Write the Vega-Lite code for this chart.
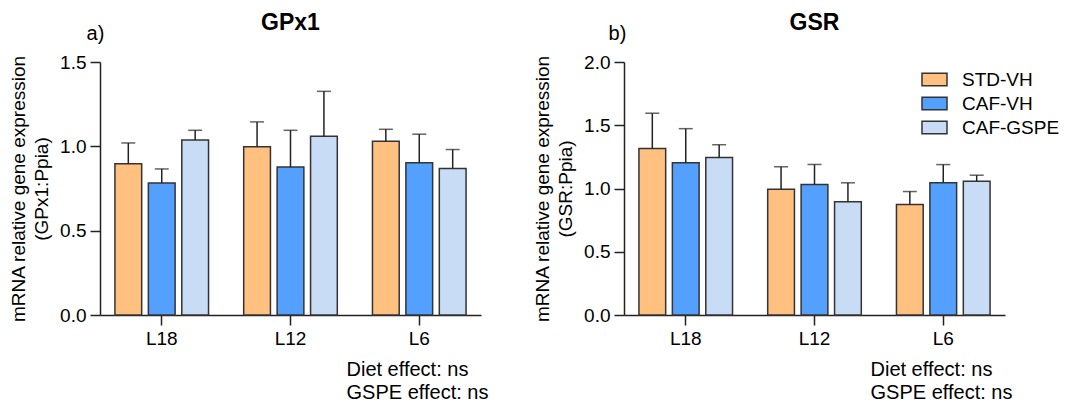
{
  "$schema": "https://vega.github.io/schema/vega-lite/v6.json",
  "background": "white",
  "padding": {"left": 9, "top": 12, "right": 0, "bottom": 0},
  "config": {
    "font": "Liberation Sans",
    "view": {"stroke": null},
    "axis": {
      "domainColor": "#222",
      "domainWidth": 1.5,
      "tickColor": "#222",
      "tickWidth": 1.5,
      "tickSize": 10,
      "labelColor": "#000",
      "titleColor": "#000",
      "labelFontSize": 19,
      "titleFontSize": 19,
      "titleFontWeight": "normal",
      "grid": false,
      "labelPadding": 4
    },
    "title": {"color": "#000"}
  },
  "datasets": {
    "gpx1": [
      {"level": "L18", "group": "STD-VH", "mean": 0.896, "upper": 1.020},
      {"level": "L18", "group": "CAF-VH", "mean": 0.783, "upper": 0.866},
      {"level": "L18", "group": "CAF-GSPE", "mean": 1.038, "upper": 1.095},
      {"level": "L12", "group": "STD-VH", "mean": 0.997, "upper": 1.145},
      {"level": "L12", "group": "CAF-VH", "mean": 0.878, "upper": 1.095},
      {"level": "L12", "group": "CAF-GSPE", "mean": 1.060, "upper": 1.326},
      {"level": "L6", "group": "STD-VH", "mean": 1.030, "upper": 1.101},
      {"level": "L6", "group": "CAF-VH", "mean": 0.902, "upper": 1.072},
      {"level": "L6", "group": "CAF-GSPE", "mean": 0.869, "upper": 0.981}
    ],
    "gsr": [
      {"level": "L18", "group": "STD-VH", "mean": 1.317, "upper": 1.595},
      {"level": "L18", "group": "CAF-VH", "mean": 1.203, "upper": 1.473},
      {"level": "L18", "group": "CAF-GSPE", "mean": 1.246, "upper": 1.346},
      {"level": "L12", "group": "STD-VH", "mean": 0.995, "upper": 1.172},
      {"level": "L12", "group": "CAF-VH", "mean": 1.032, "upper": 1.190},
      {"level": "L12", "group": "CAF-GSPE", "mean": 0.895, "upper": 1.045},
      {"level": "L6", "group": "STD-VH", "mean": 0.873, "upper": 0.976},
      {"level": "L6", "group": "CAF-VH", "mean": 1.045, "upper": 1.189},
      {"level": "L6", "group": "CAF-GSPE", "mean": 1.058, "upper": 1.105}
    ]
  },
  "spacing": 45,
  "resolve": {
    "scale": {"x": "independent", "y": "independent", "xOffset": "independent"},
    "legend": {"color": "independent"}
  },
  "hconcat": [
    {
      "title": {"text": "a)", "anchor": "start", "frame": "bounds", "fontSize": 20, "fontWeight": "normal", "baseline": "alphabetic", "offset": 0, "dx": 77, "dy": 48},
      "vconcat": [
        {
          "width": 381,
          "height": 253,
          "title": {"text": "GPx1", "fontSize": 23, "fontWeight": "bold", "anchor": "middle", "frame": "group", "baseline": "alphabetic", "offset": 0},
          "data": {"name": "gpx1"},
          "encoding": {
            "x": {
              "field": "level", "type": "nominal", "sort": ["L18", "L12", "L6"],
              "scale": {"paddingInner": 0.273, "paddingOuter": 0.116},
              "axis": {
                "labelAngle": 0,
                "title": ["Diet effect: ns", "GSPE effect: ns"],
                "titleFontSize": 20,
                "titleAlign": "left",
                "titleBaseline": "alphabetic",
                "titleX": 246,
                "titleY": 60,
                "titleLineHeight": 23
              }
            },
            "xOffset": {
              "field": "group", "type": "nominal", "sort": ["STD-VH", "CAF-VH", "CAF-GSPE"],
              "scale": {"paddingInner": 0.2, "paddingOuter": 0}
            },
            "y": {
              "field": "mean", "type": "quantitative",
              "scale": {"domain": [0, 1.5], "nice": false},
              "title": ["mRNA relative gene expression", "(GPx1:Ppia)"],
              "axis": {"values": [0, 0.5, 1, 1.5], "format": ".1f", "titleLineHeight": 23, "titlePadding": 8}
            }
          },
          "layer": [
            {
              "mark": {"type": "bar", "stroke": "#333", "strokeWidth": 1.5},
              "encoding": {
                "color": {
                  "field": "group", "type": "nominal",
                  "scale": {"domain": ["STD-VH", "CAF-VH", "CAF-GSPE"], "range": ["#FFC080", "#54A0FF", "#C8DCF5"]},
                  "legend": null
                }
              }
            },
            {
              "mark": {"type": "rule", "color": "#222", "strokeWidth": 1.5},
              "encoding": {"y2": {"field": "upper"}}
            },
            {
              "mark": {"type": "tick", "color": "#222", "size": 14, "thickness": 1.5},
              "encoding": {
                "y": {
                  "field": "upper", "type": "quantitative",
                  "scale": {"domain": [0, 1.5], "nice": false},
                  "title": ["mRNA relative gene expression", "(GPx1:Ppia)"],
                  "axis": {"values": [0, 0.5, 1, 1.5], "format": ".1f", "titleLineHeight": 23, "titlePadding": 8}
                }
              }
            }
          ]
        }
      ]
    },
    {
      "title": {"text": "b)", "anchor": "start", "frame": "bounds", "fontSize": 20, "fontWeight": "normal", "baseline": "alphabetic", "offset": 0, "dx": 75, "dy": 48},
      "resolve": {"legend": {"color": "independent"}},
      "vconcat": [
        {
          "width": 381,
          "height": 253,
          "title": {"text": "GSR", "fontSize": 23, "fontWeight": "bold", "anchor": "middle", "frame": "group", "baseline": "alphabetic", "offset": 0},
          "data": {"name": "gsr"},
          "encoding": {
            "x": {
              "field": "level", "type": "nominal", "sort": ["L18", "L12", "L6"],
              "scale": {"paddingInner": 0.273, "paddingOuter": 0.116},
              "axis": {
                "labelAngle": 0,
                "title": ["Diet effect: ns", "GSPE effect: ns"],
                "titleFontSize": 20,
                "titleAlign": "left",
                "titleBaseline": "alphabetic",
                "titleX": 246,
                "titleY": 60,
                "titleLineHeight": 23
              }
            },
            "xOffset": {
              "field": "group", "type": "nominal", "sort": ["STD-VH", "CAF-VH", "CAF-GSPE"],
              "scale": {"paddingInner": 0.2, "paddingOuter": 0}
            },
            "y": {
              "field": "mean", "type": "quantitative",
              "scale": {"domain": [0, 2], "nice": false},
              "title": ["mRNA relative gene expression", "(GSR:Ppia)"],
              "axis": {"values": [0, 0.5, 1, 1.5, 2], "format": ".1f", "titleLineHeight": 23, "titlePadding": 8}
            }
          },
          "layer": [
            {
              "mark": {"type": "bar", "stroke": "#333", "strokeWidth": 1.5},
              "encoding": {
                "color": {
                  "field": "group", "type": "nominal",
                  "scale": {"domain": ["STD-VH", "CAF-VH", "CAF-GSPE"], "range": ["#FFC080", "#54A0FF", "#C8DCF5"]},
                  "legend": {
                    "title": null,
                    "orient": "none",
                    "legendX": 297,
                    "legendY": 4,
                    "padding": 0,
                    "labelFontSize": 19,
                    "labelColor": "#000",
                    "labelOffset": 14,
                    "rowPadding": 0,
                    "symbolType": "M-1,-0.5H1V0.5H-1Z",
                    "symbolSize": 625,
                    "symbolStrokeColor": "#333",
                    "symbolStrokeWidth": 1.5,
                    "symbolOpacity": 1
                  }
                }
              }
            },
            {
              "mark": {"type": "rule", "color": "#222", "strokeWidth": 1.5},
              "encoding": {"y2": {"field": "upper"}}
            },
            {
              "mark": {"type": "tick", "color": "#222", "size": 14, "thickness": 1.5},
              "encoding": {
                "y": {
                  "field": "upper", "type": "quantitative",
                  "scale": {"domain": [0, 2], "nice": false},
                  "title": ["mRNA relative gene expression", "(GSR:Ppia)"],
                  "axis": {"values": [0, 0.5, 1, 1.5, 2], "format": ".1f", "titleLineHeight": 23, "titlePadding": 8}
                }
              }
            }
          ]
        }
      ]
    }
  ]
}
